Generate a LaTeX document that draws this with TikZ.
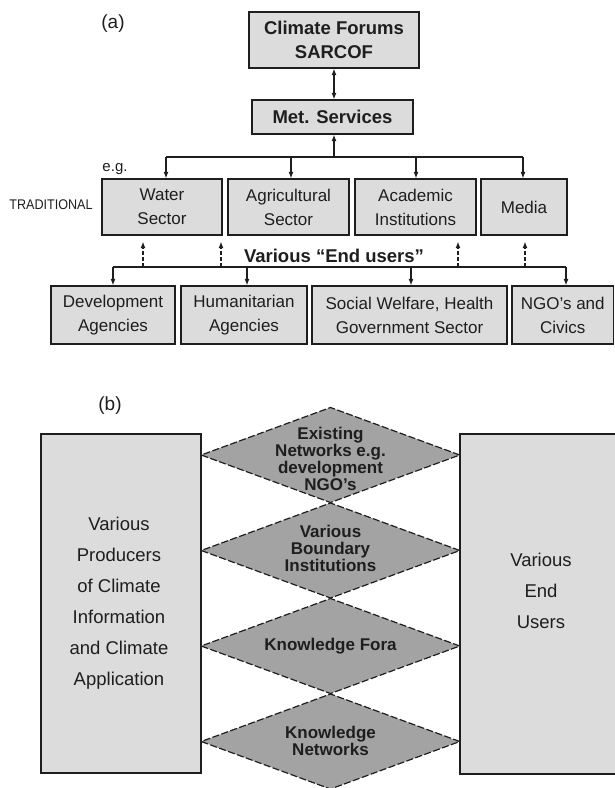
\documentclass[tikz,border=0pt]{standalone}
\usepackage{fontspec}
\setmainfont{Liberation Sans}
\usetikzlibrary{arrows.meta,shapes.geometric}
\definecolor{boxgray}{HTML}{DCDCDC}
\definecolor{diagray}{HTML}{A3A3A3}
\definecolor{ink}{HTML}{1E1E1E}
\begin{document}
\begin{tikzpicture}[x=1pt,y=-1pt,
  every node/.style={text=ink},
  bx/.style={draw=ink, fill=boxgray, line width=1.3pt, inner sep=0pt, align=center,
    font=\fontsize{17}{24}\selectfont},
  bbx/.style={bx, font=\fontsize{18.5}{24}\selectfont\bfseries},
  bigbox/.style={draw=ink, fill=boxgray, line width=1.3pt, inner sep=0pt},
  dia/.style={diamond, draw=ink, fill=diagray, line width=1.2pt, dash pattern=on 7pt off 2.5pt,
    inner sep=0pt, minimum width=259pt, minimum height=95.5pt},
  dlabel/.style={align=center, inner sep=0pt, font=\fontsize{17}{17}\selectfont\bfseries},
  plain/.style={inner sep=0pt, align=center},
  arr/.style={draw=ink, line width=1.1pt, -{Latex[length=6.5pt,width=5pt]}},
  darr/.style={arr, dash pattern=on 4pt off 2.2pt},
  dblarr/.style={draw=ink, line width=1.1pt, {Latex[length=6.5pt,width=5pt]}-{Latex[length=6.5pt,width=5pt]}},
  ln/.style={draw=ink, line width=1.1pt}]
\useasboundingbox (0,0) rectangle (614,788);
% ---------- (a) ----------
\node[plain, font=\fontsize{19}{22}\selectfont] (la) at (113,24) {(a)};
\node[bbx, minimum width=170pt, minimum height=56pt] (cf) at (334,40) {Climate Forums\\SARCOF};
\node[bbx, minimum width=161pt, minimum height=34pt] (ms) at (332.5,117) {Met. Services};
\draw[dblarr] (cf.south) -- (cf.south |- ms.north);

\node[bx, minimum width=120pt, minimum height=56pt] (water) at (162,207) {Water\\Sector};
\node[bx, minimum width=121pt, minimum height=56pt] (agri) at (288.5,207) {Agricultural\\Sector};
\node[bx, minimum width=121pt, minimum height=56pt] (acad) at (415.5,207) {Academic\\Institutions};
\node[bx, minimum width=86pt, minimum height=56pt] (media) at (524,207) {Media};
\node[plain, font=\fontsize{15}{18}\selectfont] (eg) at (115,169) {e.g.};
\node[plain, font=\fontsize{14}{16}\selectfont, xscale=0.9] (trad) at (51,205) {TRADITIONAL};

\coordinate (t1) at (166,157);
\coordinate (t2) at (291,157);
\coordinate (t3) at (416,157);
\coordinate (t4) at (523,157);
\coordinate (tm) at (334,157);
\draw[ln] (t1) -- (t4);
\draw[arr] (tm) -- (tm |- ms.south);
\draw[arr] (t1) -- (t1 |- water.north);
\draw[arr] (t2) -- (t2 |- agri.north);
\draw[arr] (t3) -- (t3 |- acad.north);
\draw[arr] (t4) -- (t4 |- media.north);

\node[plain, font=\fontsize{18.5}{22}\selectfont\bfseries] (eu) at (334,256) {Various “End users”};

\node[bx, minimum width=124pt, minimum height=58pt] (dev) at (113,315) {Development\\Agencies};
\node[bx, minimum width=126pt, minimum height=58pt] (hum) at (244,315) {Humanitarian\\Agencies};
\node[bx, minimum width=195pt, minimum height=58pt] (soc) at (409.5,315) {Social Welfare, Health\\Government Sector};
\node[bx, minimum width=101.5pt, minimum height=58pt] (ngo) at (562.75,315) {NGO’s and\\Civics};

\coordinate (u1) at (113,267);
\coordinate (u2) at (247,267);
\coordinate (u3) at (411,267);
\coordinate (u4) at (566,267);
\coordinate (v1) at (143,267);
\coordinate (v2) at (221,267);
\coordinate (v3) at (458,267);
\coordinate (v4) at (525,267);
\draw[ln] (u1) -- (u4);
\draw[arr] (u1) -- (u1 |- dev.north);
\draw[arr] (u2) -- (u2 |- hum.north);
\draw[arr] (u3) -- (u3 |- soc.north);
\draw[arr] (u4) -- (u4 |- ngo.north);
\draw[darr, shorten >=6pt] (v1) -- (v1 |- water.south);
\draw[darr, shorten >=6pt] (v2) -- (v2 |- water.south);
\draw[darr, shorten >=6pt] (v3) -- (v3 |- acad.south);
\draw[darr, shorten >=6pt] (v4) -- (v4 |- media.south);

% ---------- (b) ----------
\node[plain, font=\fontsize{19}{22}\selectfont] (lb) at (110,406) {(b)};
\node[bigbox, minimum width=160pt, minimum height=339pt] (prod) at (121,603.5) {};
\node[bigbox, minimum width=158pt, minimum height=340pt] (users) at (539,604) {};
\node[plain, font=\fontsize{18.5}{31}\selectfont] (prodt) at (119,603) {Various\\Producers\\of Climate\\Information\\and Climate\\Application};
\node[plain, font=\fontsize{18.5}{31}\selectfont] (userst) at (541,591) {Various\\End\\Users};

\node[dia] (d1) at (330.5,455) {};
\node[dia] (d2) at (330.5,550.5) {};
\node[dia] (d3) at (330.5,646) {};
\node[dia] (d4) at (330.5,741.5) {};
\node[dlabel] (d1t) at (330.5,459) {Existing\\Networks e.g.\\development\\NGO’s};
\node[dlabel] (d2t) at (330.5,548) {Various\\Boundary\\Institutions};
\node[dlabel] (d3t) at (330.5,646) {Knowledge Fora};
\node[dlabel] (d4t) at (330.5,741) {Knowledge\\Networks};
\end{tikzpicture}
\end{document}
